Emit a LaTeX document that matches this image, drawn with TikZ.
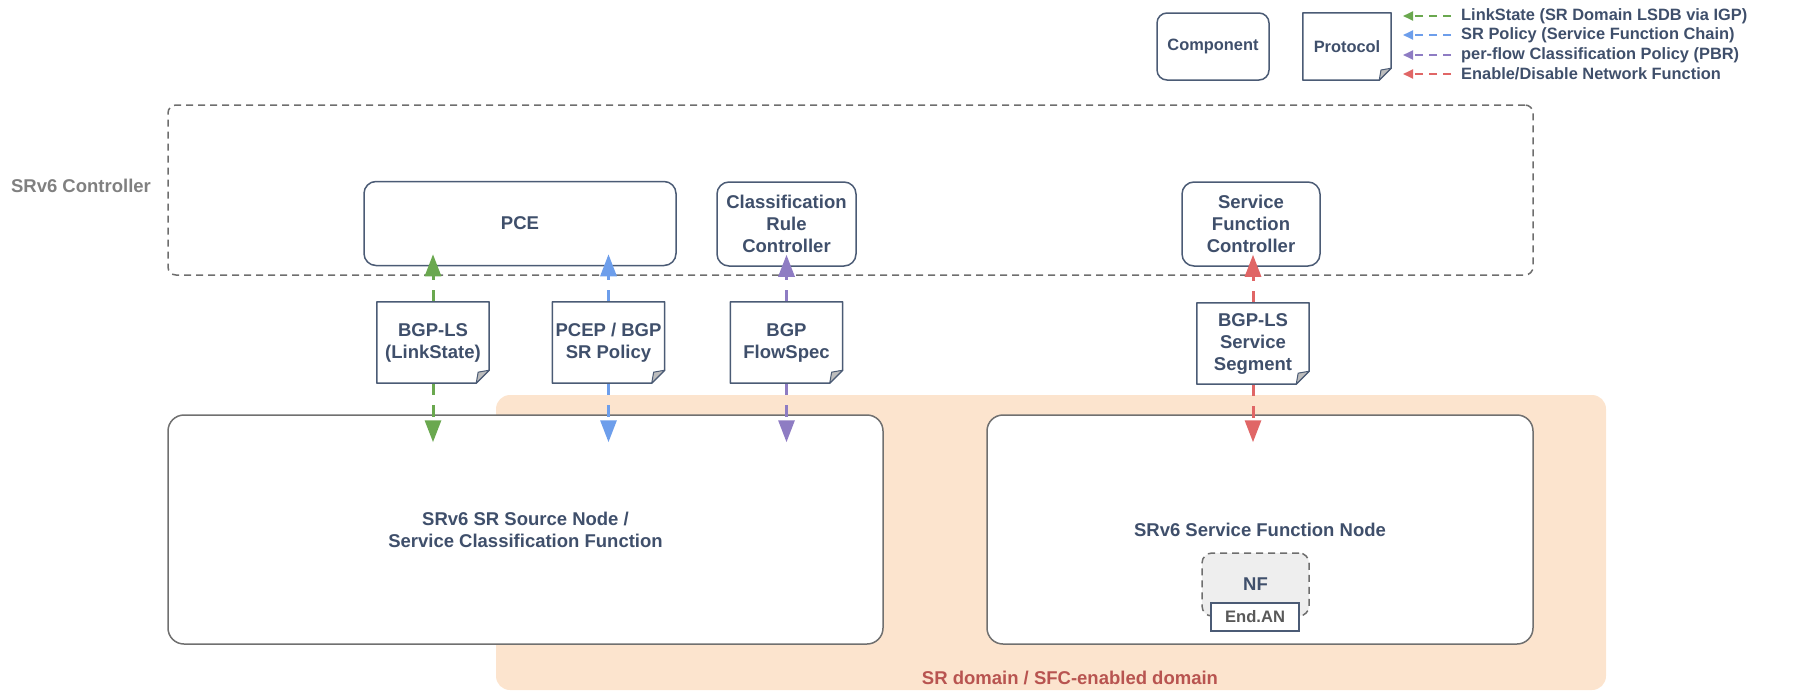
\documentclass[tikz,border=0pt]{standalone}
\usepackage{fontspec}
\setmainfont{Liberation Sans}
\usetikzlibrary{arrows.meta,calc}

\definecolor{slate}{HTML}{3F4F6B}
\definecolor{boxline}{HTML}{4B5B75}
\definecolor{nodeline}{HTML}{707070}
\definecolor{dashgray}{HTML}{6E6E6E}
\definecolor{ctrlgray}{HTML}{808080}
\definecolor{domfill}{HTML}{FCE4CE}
\definecolor{domred}{HTML}{B85450}
\definecolor{nffill}{HTML}{EEEEEE}
\definecolor{foldgray}{HTML}{BDBDBD}
\definecolor{lsgreen}{HTML}{6AA84F}
\definecolor{polblue}{HTML}{6D9EEB}
\definecolor{pbrpurple}{HTML}{8E7CC3}
\definecolor{nfred}{HTML}{E06666}

\newcommand{\bigfont}{\fontsize{18.5}{22}\selectfont\bfseries}
\newcommand{\legfont}{\fontsize{16.4}{18}\selectfont\bfseries}

\tikzset{
  comp/.style={draw=boxline, line width=1.5pt, rounded corners=12pt, fill=white,
    inner sep=0pt, align=center, text=slate, font=\bigfont},
  proto/.style={fill=white, inner sep=0pt, align=center, text=slate, font=\bigfont,
    minimum width=112pt, minimum height=81pt},
  srnode/.style={draw=nodeline, line width=1.5pt, rounded corners=16pt, fill=white,
    inner sep=0pt, align=center, text=slate, font=\bigfont, minimum height=229pt},
  flow/.style={line width=3pt, dash pattern=on 12pt off 10pt,
    >={Triangle[width=16pt,length=22pt]}, ->},
  legflow/.style={line width=2pt, dash pattern=on 8pt off 6pt,
    >={Triangle[width=9pt,length=10pt]}, ->},
  legtext/.style={anchor=west, inner sep=0pt, text=slate, font=\legfont},
}

\begin{document}
\begin{tikzpicture}[x=1pt,y=-1pt]
\useasboundingbox (0,0) rectangle (1796,691);

% SR domain
\node[fill=domfill, rounded corners=14pt, minimum width=1110pt, minimum height=295pt, inner sep=0pt] (dom) at (1051,542.5) {};
\node[text=domred, font=\bigfont, inner sep=0pt] (domlbl) at (1070,678) {SR domain / SFC-enabled domain};

% controller
\node[draw=dashgray, line width=1.5pt, dash pattern=on 7pt off 5pt, rounded corners=8pt, minimum width=1365pt, minimum height=170pt, inner sep=0pt] (ctrl) at (850.5,190) {};
\node[text=ctrlgray, font=\bigfont, inner sep=0pt] (ctrllbl) at (81,186) {SRv6 Controller};

\node[comp, minimum width=312pt, minimum height=84pt] (pce) at (520,223.5) {PCE};
\node[comp, minimum width=139pt, minimum height=84pt] (crc) at (786.5,224) {Classification\\Rule\\Controller};
\node[comp, minimum width=138pt, minimum height=84pt] (sfc) at (1251,224) {Service\\Function\\Controller};

% nodes
\node[srnode, minimum width=715pt] (src) at (525.5,529.5) {SRv6 SR Source Node /\\Service Classification Function};
\node[srnode, minimum width=546pt] (sfn) at (1260,529.5) {SRv6 Service Function Node};
\node[draw=dashgray, line width=1.5pt, dash pattern=on 7pt off 5pt, rounded corners=10pt, fill=nffill, minimum width=107pt, minimum height=63pt, inner sep=0pt, text=slate, font=\bigfont] (nf) at (1255.5,584.5) {NF};
\node[draw=boxline, line width=1.5pt, fill=white, minimum width=88pt, minimum height=28pt, inner sep=0pt, text=black!65, font=\fontsize{16.6}{18}\selectfont\bfseries] (endan) at (1255,617) {End.AN};

% protocol notes
\node[proto] (bgpls) at (433,342.5) {BGP-LS\\(LinkState)};
\node[proto] (pcep) at (608.5,342.5) {PCEP / BGP\\SR Policy};
\node[proto] (flowspec) at (786.5,342.5) {BGP\\FlowSpec};
\node[proto] (lsseg) at (1253,343.5) {BGP-LS\\Service\\Segment};

% flows
\draw[flow, lsgreen] (bgpls.north) -- ($(bgpls |- pce.south)+(0,-12)$);
\draw[flow, lsgreen] (bgpls.south) -- ($(bgpls |- src.north)+(0,28)$);
\draw[flow, polblue] (pcep.north) -- ($(pcep |- pce.south)+(0,-12)$);
\draw[flow, polblue] (pcep.south) -- ($(pcep |- src.north)+(0,28)$);
\draw[flow, pbrpurple] (flowspec.north) -- ($(flowspec |- crc.south)+(0,-12)$);
\draw[flow, pbrpurple] (flowspec.south) -- ($(flowspec |- src.north)+(0,28)$);
\draw[flow, nfred] (lsseg.north) -- ($(lsseg |- sfc.south)+(0,-12)$);
\draw[flow, nfred] (lsseg.south) -- ($(lsseg |- sfn.north)+(0,28)$);

% legend
\node[comp, font=\legfont, rounded corners=10pt, minimum width=112pt, minimum height=67pt] (legcomp) at (1213,46.5) {Component};
\node[proto, font=\legfont, minimum width=88pt, minimum height=67pt] (legproto) at (1347,46.5) {Protocol};

\foreach \n/\f in {bgpls/13, pcep/13, flowspec/13, lsseg/13, legproto/12} {
  \draw[boxline, line width=1.5pt, line join=round] (\n.north west) -- (\n.north east) -- ([yshift=\f pt]\n.south east) -- ([xshift=-\f pt]\n.south east) -- (\n.south west) -- cycle;
  \filldraw[draw=boxline, fill=foldgray, line width=1pt, line join=round] ([yshift=\f pt]\n.south east) -- ([xshift=-\f pt]\n.south east) -- ([xshift=-0.85*\f pt, yshift=0.85*\f pt]\n.south east) -- cycle;
}

\node[legtext] (leg1) at (1461,16) {LinkState (SR Domain LSDB via IGP)};
\node[legtext] (leg2) at (1461,35) {SR Policy (Service Function Chain)};
\node[legtext] (leg3) at (1461,55) {per-flow Classification Policy (PBR)};
\node[legtext] (leg4) at (1461,74) {Enable/Disable Network Function};
\draw[legflow, lsgreen] ([xshift=-10pt]leg1.west) -- ++(-48,0);
\draw[legflow, polblue] ([xshift=-10pt]leg2.west) -- ++(-48,0);
\draw[legflow, pbrpurple] ([xshift=-10pt]leg3.west) -- ++(-48,0);
\draw[legflow, nfred] ([xshift=-10pt]leg4.west) -- ++(-48,0);
\end{tikzpicture}
\end{document}
